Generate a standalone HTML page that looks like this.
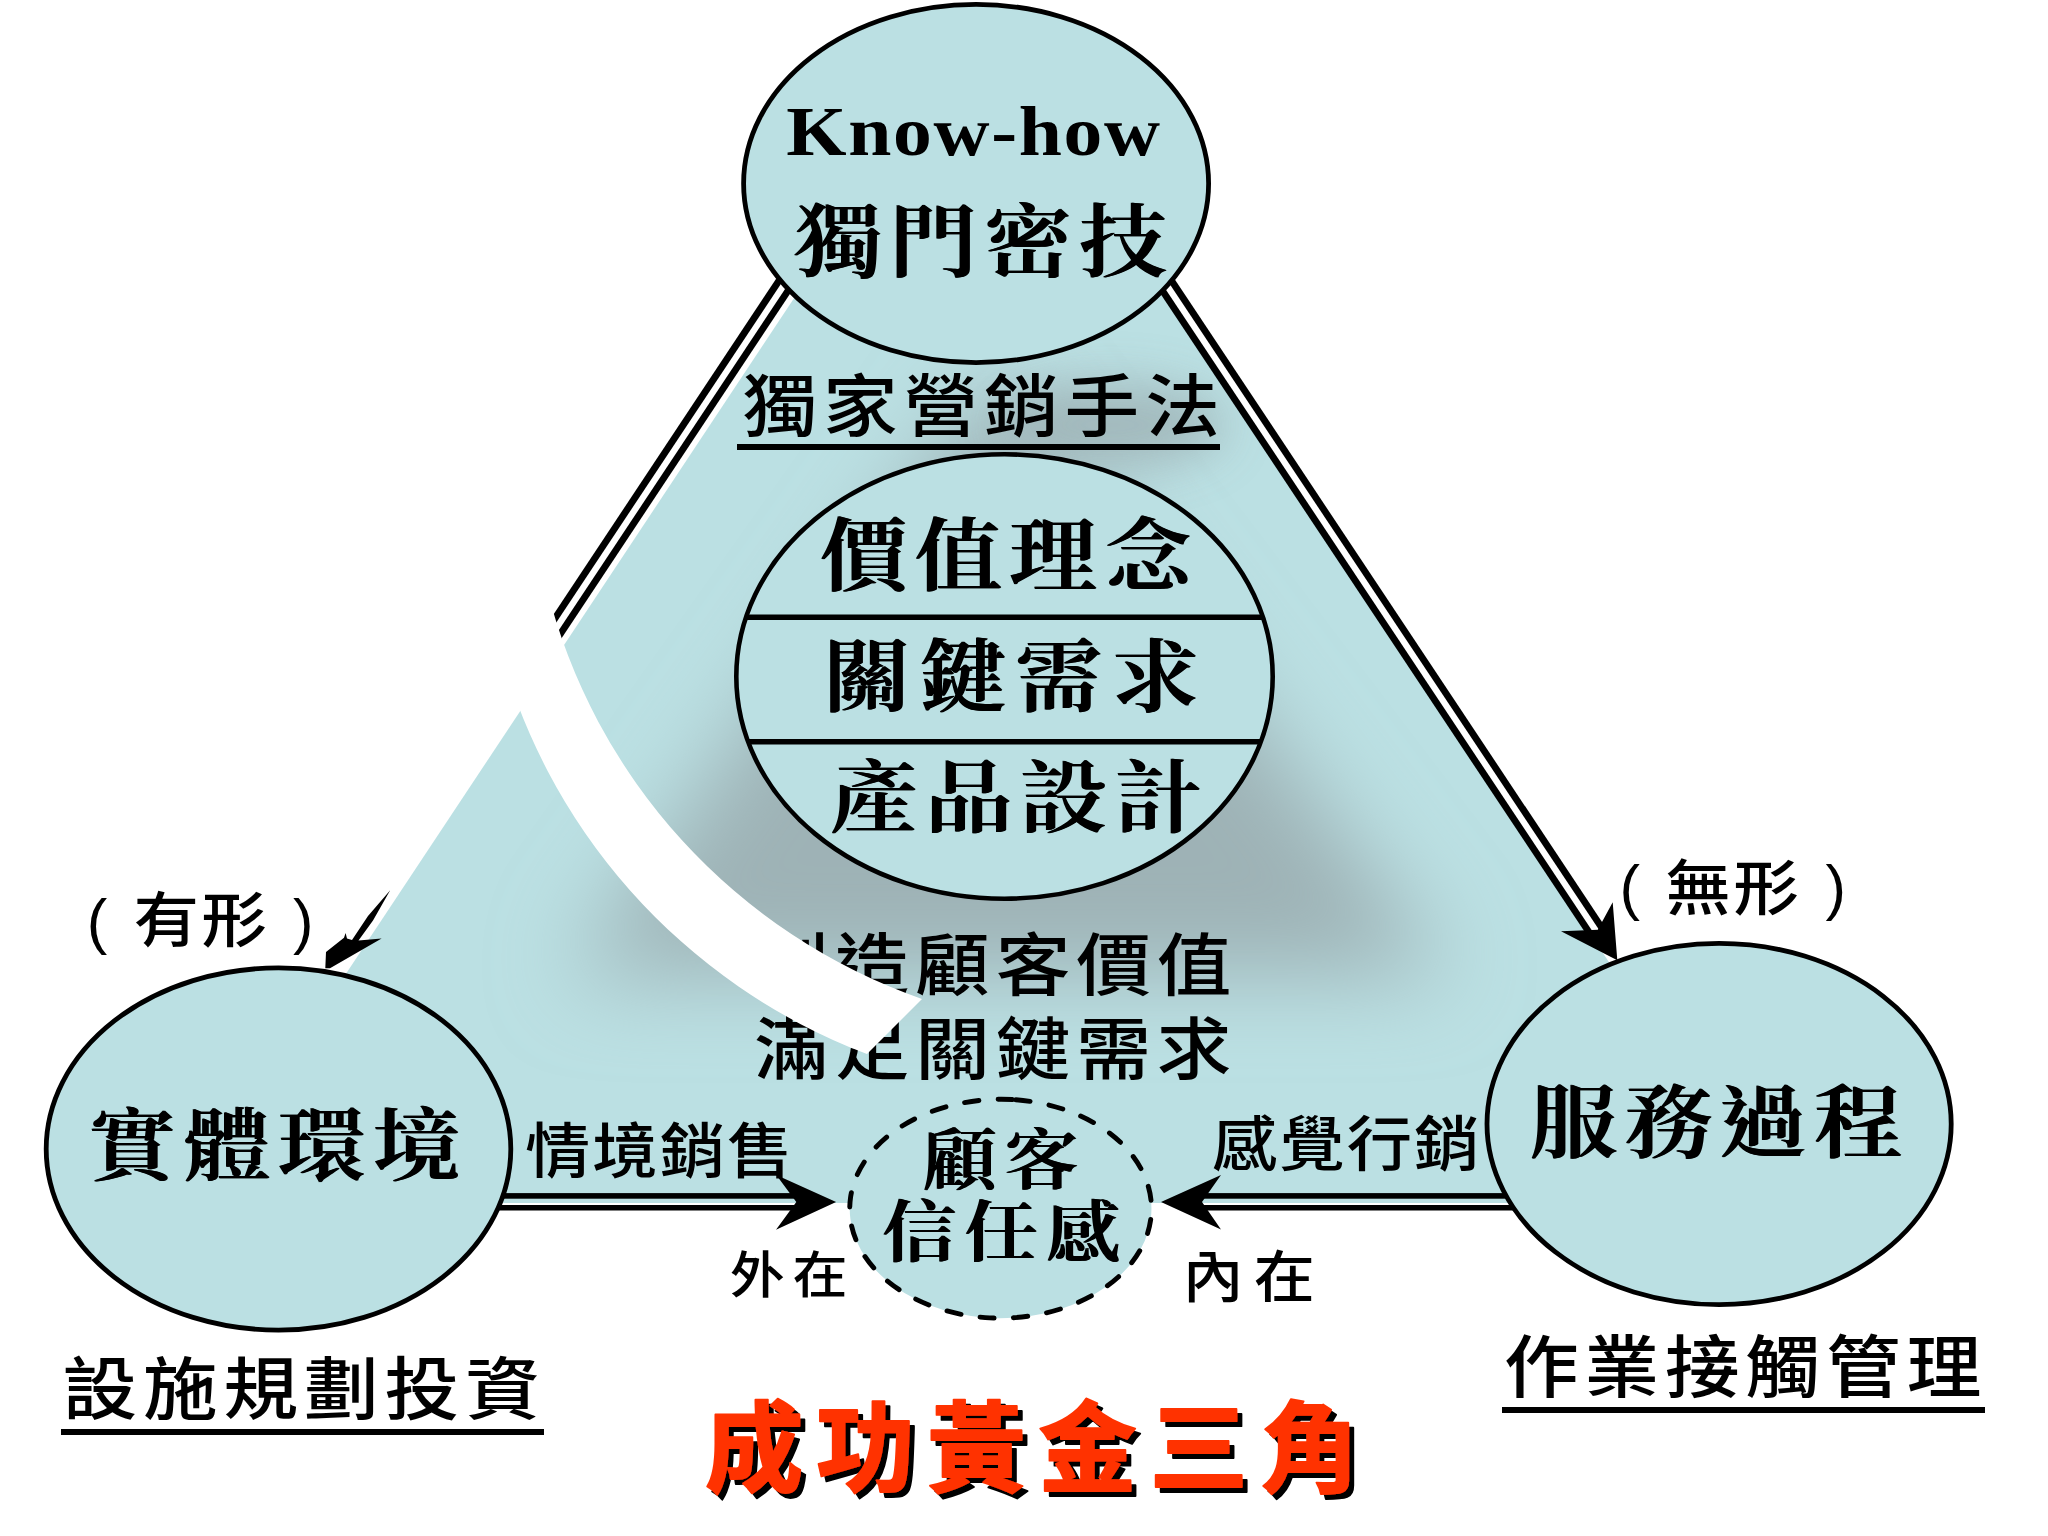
<!DOCTYPE html>
<html lang="zh-Hant"><head><meta charset="utf-8"><title>成功黃金三角</title>
<style>html,body{margin:0;padding:0;background:#fff;}body{width:2048px;height:1536px;overflow:hidden;}svg{display:block;}</style>
</head><body>
<svg width="2048" height="1536" viewBox="0 0 2048 1536">
<defs>
<filter id="blur" x="-30%" y="-30%" width="160%" height="160%"><feGaussianBlur stdDeviation="45"/></filter>
<filter id="blur2" x="-40%" y="-100%" width="180%" height="300%"><feGaussianBlur stdDeviation="24"/></filter>
<filter id="fb" x="-5%" y="-5%" width="110%" height="110%"><feMorphology in="SourceGraphic" operator="dilate" radius="1 0.01" result="d"/><feMerge><feMergeNode in="d"/><feMergeNode in="SourceGraphic"/></feMerge></filter>
<filter id="sh" x="-5%" y="-10%" width="110%" height="125%"><feOffset in="SourceAlpha" dx="5" dy="5" result="o"/><feFlood flood-color="#000"/><feComposite in2="o" operator="in" result="s"/><feMerge><feMergeNode in="s"/><feMergeNode in="SourceGraphic"/></feMerge></filter>
<clipPath id="triclip"><polygon points="980.6,17.0 193.9,1203.0 1769.1,1203.0"/></clipPath>
</defs>
<rect width="2048" height="1536" fill="#fff"/>
<polygon points="980.6,17.0 193.9,1203.0 1769.1,1203.0" fill="#bbe0e3"/>
<g clip-path="url(#triclip)"><polygon points="985,390 1005,390 1450,975 570,975" fill="#9eb2b6" filter="url(#blur)"/><ellipse cx="1110" cy="425" rx="115" ry="42" fill="#9eb2b6" opacity="0.85" filter="url(#blur2)"/></g>
<text id="t_dujia" transform="translate(742.50 431.12) scale(1.0900 1)" font-family='"Liberation Sans", "Noto Sans CJK TC", "Noto Sans CJK SC", sans-serif' font-size="68.50" font-weight="500" letter-spacing="5.40" fill="#000" >獨家營銷手法</text>
<text id="t_chuang" transform="translate(754.20 989.90) scale(1.0900 1)" font-family='"Liberation Sans", "Noto Sans CJK TC", "Noto Sans CJK SC", sans-serif' font-size="68.50" font-weight="500" letter-spacing="5.40" fill="#000" >創造顧客價值</text>
<text id="t_manzu" transform="translate(754.10 1073.80) scale(1.0900 1)" font-family='"Liberation Sans", "Noto Sans CJK TC", "Noto Sans CJK SC", sans-serif' font-size="68.50" font-weight="500" letter-spacing="5.40" fill="#000" >滿足關鍵需求</text>
<text id="t_qingjing" transform="translate(525.00 1172.75) scale(1.0900 1)" font-family='"Liberation Sans", "Noto Sans CJK TC", "Noto Sans CJK SC", sans-serif' font-size="60.00" font-weight="500" letter-spacing="1.80" fill="#000" >情境銷售</text>
<text id="t_ganjue" transform="translate(1212.00 1165.50) scale(1.0900 1)" font-family='"Liberation Sans", "Noto Sans CJK TC", "Noto Sans CJK SC", sans-serif' font-size="60.00" font-weight="500" letter-spacing="1.80" fill="#000" >感覺行銷</text>
<rect id="u_dujia" x="737" y="444" width="483" height="6" fill="#000"/>
<line x1="801.73" y1="246.38" x2="539.70" y2="641.38" stroke="#000" stroke-width="6.8"/><line x1="812.64" y1="253.62" x2="550.62" y2="648.62" stroke="#000" stroke-width="6.8"/>
<line x1="1144.48" y1="263.63" x2="1590.63" y2="934.63" stroke="#000" stroke-width="6.8"/><line x1="1155.39" y1="256.37" x2="1601.53" y2="927.37" stroke="#000" stroke-width="6.8"/>
<rect x="480" y="1193.1" width="316.5" height="5.6" fill="#000"/><rect x="480" y="1205" width="316.5" height="5.5" fill="#000"/>
<rect x="1202" y="1193.1" width="320" height="5.6" fill="#000"/><rect x="1202" y="1205" width="320" height="5.5" fill="#000"/>
<polygon points="836.1,1201.9 776.3,1174.9 796.3,1201.9 776,1229.7" fill="#000"/>
<polygon points="1161,1201.9 1221,1175 1202,1201.9 1221,1229.6" fill="#000"/>
<polygon points="1617.3,960.2 1561,931.3 1597.8,929.7 1612.7,902.3" fill="#000"/>
<polygon points="325.3,968.3 326,951.9 344,937.8 345.6,933 347,938.6 352,940 368,916 390.2,890.2 373,920.5 358.5,940.5 381.6,938.6 330,968.3" fill="#000"/>
<path id="band" d="M546.3,586.6 A587 587 0 0 0 922,999 L867,1054 A602 602 0 0 1 496.1,634.9 Z" fill="#fff"/>
<ellipse cx="976.1" cy="183.5" rx="232.5" ry="179.1" fill="#bbe0e3" stroke="#000" stroke-width="4.8" />
<ellipse cx="278.5" cy="1149" rx="232.3" ry="181.1" fill="#bbe0e3" stroke="#000" stroke-width="4.8" />
<ellipse cx="1719.1" cy="1124" rx="232.1" ry="180.6" fill="#bbe0e3" stroke="#000" stroke-width="4.8" />
<ellipse cx="1004.5" cy="676.5" rx="268.2" ry="222.2" fill="#bbe0e3" stroke="#000" stroke-width="4.6" />
<line x1="746.0" y1="617.2" x2="1263.0" y2="617.2" stroke="#000" stroke-width="5.4"/>
<line x1="748.1" y1="741.8" x2="1260.9" y2="741.8" stroke="#000" stroke-width="5.4"/>
<path d="M1015.90,1099.76 A151.7 109.5 0 0 1 985.30,1317.64 A151.7 109.5 0 0 1 1015.90,1099.76" fill="#bbe0e3" stroke="#000" stroke-width="4.9" stroke-linecap="round" stroke-dasharray="14.4 19.106"/>
<text id="t_know" transform="translate(786.20 155.00) scale(1.1000 1)" font-family='"Liberation Serif", "Noto Serif CJK TC", "Noto Serif CJK SC", serif' font-size="70.50" font-weight="700" letter-spacing="1.55" fill="#000" >Know-how</text>
<text id="t_dumen" transform="translate(795.00 269.55) scale(1.0900 1)" font-family='"Liberation Serif", "Noto Serif CJK TC", "Noto Serif CJK SC", serif' font-size="80.00" font-weight="600" letter-spacing="7.00" fill="#000"  filter="url(#fb)">獨門密技</text>
<text id="t_jiazhi" transform="translate(820.00 583.50) scale(1.0900 1)" font-family='"Liberation Serif", "Noto Serif CJK TC", "Noto Serif CJK SC", serif' font-size="80.00" font-weight="600" letter-spacing="7.00" fill="#000"  filter="url(#fb)">價值理念</text>
<text id="t_guanjian" transform="translate(823.30 705.10) scale(1.0900 1)" font-family='"Liberation Serif", "Noto Serif CJK TC", "Noto Serif CJK SC", serif' font-size="80.00" font-weight="600" letter-spacing="8.20" fill="#000"  filter="url(#fb)">關鍵需求</text>
<text id="t_chanpin" transform="translate(830.50 825.88) scale(1.0900 1)" font-family='"Liberation Serif", "Noto Serif CJK TC", "Noto Serif CJK SC", serif' font-size="80.00" font-weight="600" letter-spacing="7.00" fill="#000"  filter="url(#fb)">產品設計</text>
<text id="t_shiti" transform="translate(88.50 1173.75) scale(1.0900 1)" font-family='"Liberation Serif", "Noto Serif CJK TC", "Noto Serif CJK SC", serif' font-size="80.00" font-weight="600" letter-spacing="7.00" fill="#000"  filter="url(#fb)">實體環境</text>
<text id="t_fuwu" transform="translate(1530.00 1150.75) scale(1.0900 1)" font-family='"Liberation Serif", "Noto Serif CJK TC", "Noto Serif CJK SC", serif' font-size="80.00" font-weight="600" letter-spacing="7.00" fill="#000"  filter="url(#fb)">服務過程</text>
<text id="t_guke" transform="translate(922.90 1183.75) scale(1.0900 1)" font-family='"Liberation Serif", "Noto Serif CJK TC", "Noto Serif CJK SC", serif' font-size="67.50" font-weight="600" letter-spacing="7.70" fill="#000"  filter="url(#fb)">顧客</text>
<text id="t_xinren" transform="translate(882.50 1255.50) scale(1.0900 1)" font-family='"Liberation Serif", "Noto Serif CJK TC", "Noto Serif CJK SC", serif' font-size="67.50" font-weight="600" letter-spacing="7.70" fill="#000"  filter="url(#fb)">信任感</text>
<text id="t_waizai" transform="translate(729.63 1292.50) scale(1.0900 1)" font-family='"Liberation Sans", "Noto Sans CJK TC", "Noto Sans CJK SC", sans-serif' font-size="50.50" font-weight="500" letter-spacing="7.30" fill="#000" >外在</text>
<text id="t_neizai" transform="translate(1182.50 1297.40) scale(1.0900 1)" font-family='"Liberation Sans", "Noto Sans CJK TC", "Noto Sans CJK SC", sans-serif' font-size="56.00" font-weight="500" letter-spacing="9.30" fill="#000" >內在</text>
<text id="t_yx_l" transform="translate(86.70 942.40) scale(1.0000 1)" font-family='"Liberation Sans", "Noto Sans CJK TC", "Noto Sans CJK SC", sans-serif' font-size="61.60" font-weight="400" letter-spacing="0.00" fill="#000" >(</text>
<text id="t_youxing" transform="translate(133.50 941.90) scale(1.0900 1)" font-family='"Liberation Sans", "Noto Sans CJK TC", "Noto Sans CJK SC", sans-serif' font-size="60.00" font-weight="500" letter-spacing="2.50" fill="#000" >有形</text>
<text id="t_yx_r" transform="translate(292.90 942.40) scale(1.0000 1)" font-family='"Liberation Sans", "Noto Sans CJK TC", "Noto Sans CJK SC", sans-serif' font-size="61.60" font-weight="400" letter-spacing="0.00" fill="#000" >)</text>
<text id="t_wx_l" transform="translate(1619.40 908.40) scale(1.0000 1)" font-family='"Liberation Sans", "Noto Sans CJK TC", "Noto Sans CJK SC", sans-serif' font-size="61.60" font-weight="400" letter-spacing="0.00" fill="#000" >(</text>
<text id="t_wuxing" transform="translate(1665.40 910.20) scale(1.0900 1)" font-family='"Liberation Sans", "Noto Sans CJK TC", "Noto Sans CJK SC", sans-serif' font-size="60.00" font-weight="500" letter-spacing="2.50" fill="#000" >無形</text>
<text id="t_wx_r" transform="translate(1825.40 908.40) scale(1.0000 1)" font-family='"Liberation Sans", "Noto Sans CJK TC", "Noto Sans CJK SC", sans-serif' font-size="61.60" font-weight="400" letter-spacing="0.00" fill="#000" >)</text>
<text id="t_sheshi" transform="translate(62.50 1414.00) scale(1.0900 1)" font-family='"Liberation Sans", "Noto Sans CJK TC", "Noto Sans CJK SC", sans-serif' font-size="68.50" font-weight="500" letter-spacing="5.40" fill="#000" >設施規劃投資</text>
<text id="t_zuoye" transform="translate(1504.00 1391.75) scale(1.0900 1)" font-family='"Liberation Sans", "Noto Sans CJK TC", "Noto Sans CJK SC", sans-serif' font-size="68.50" font-weight="500" letter-spacing="5.40" fill="#000" >作業接觸管理</text>
<text id="t_title" transform="translate(704.70 1483.60) scale(1.0000 1)" font-family='"Liberation Sans", "Noto Sans CJK TC", "Noto Sans CJK SC", sans-serif' font-size="98.60" font-weight="700" letter-spacing="12.60" fill="#ff3300" stroke="#ff3300" stroke-width="1.8" stroke-linejoin="round" filter="url(#sh)">成功黃金三角</text>
<rect id="u_sheshi" x="61" y="1429" width="483" height="6" fill="#000"/>
<rect id="u_zuoye" x="1502" y="1407" width="483" height="6" fill="#000"/>
</svg>
</body></html>
